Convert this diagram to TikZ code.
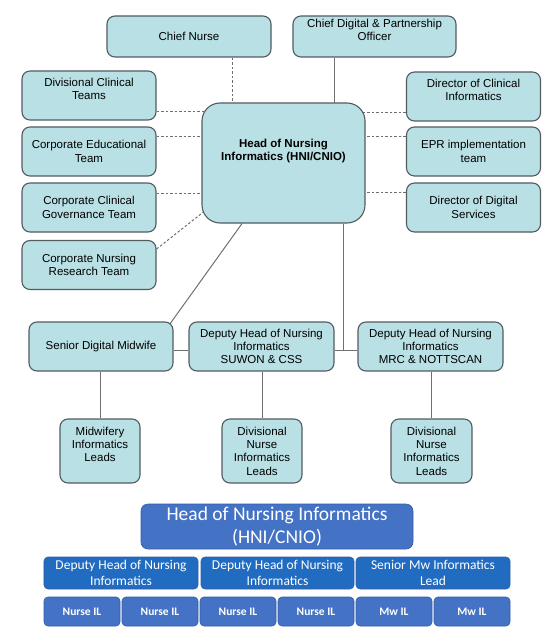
\documentclass[tikz,border=0pt]{standalone}
\usepackage{fontspec}
\setmainfont{Liberation Sans}
\newfontfamily\calibri{Carlito}
\usepackage{tikz}
\usetikzlibrary{shapes,arrows}
\usetikzlibrary{backgrounds}
\definecolor{boxfill}{RGB}{185,224,228}
\definecolor{boxline}{RGB}{82,92,96}
\definecolor{linkgrey}{RGB}{112,112,112}
\definecolor{hniblue}{RGB}{68,114,196}
\definecolor{depblue}{RGB}{33,108,192}
\definecolor{blueline}{RGB}{52,92,168}
\tikzset{auto, minimum size=0pt, font=\fontsize{11.5bp}{13.3bp}\selectfont}
\tikzstyle{block} = [draw=boxline, line width=1.1bp, fill=boxfill, rectangle, rounded corners=8bp, inner sep=2bp, text centered, align=center]
\tikzstyle{hnibox} = [block, rounded corners=18bp, font=\fontsize{11.5bp}{13.3bp}\selectfont\bfseries]
\tikzstyle{link} = [draw=linkgrey, line width=1bp]
\tikzstyle{dotlink} = [link, dash pattern=on 2.5bp off 2bp]
\tikzstyle{bluebox} = [draw=blueline, line width=0.6bp, rectangle, rounded corners=4bp, text=white, align=center, inner sep=1bp]

\begin{document}
\begin{tikzpicture}[x=1bp,y=-1bp]
		\useasboundingbox (0,0) rectangle (555,635);
		% top part
		\node [block, minimum width=164bp, minimum height=41bp] (cn) at (189,36.5) {Chief Nurse};
		\node [block, minimum width=163bp, minimum height=41bp] (cdpo) at (374.5,36.5) {Chief Digital \& Partnership\\Officer\\~};
		\node [hnibox, minimum width=163bp, minimum height=120bp] (hni) at (283.5,163) {Head of Nursing\\Informatics (HNI/CNIO)\\~\\~};
		\node [block, minimum width=134bp, minimum height=49bp] (dct) at (89,95.5) {Divisional Clinical\\Teams\\~};
		\node [block, minimum width=134bp, minimum height=49bp] (cet) at (89,151.5) {Corporate Educational\\Team};
		\node [block, minimum width=134bp, minimum height=49bp] (ccgt) at (89,207.5) {Corporate Clinical\\Governance Team};
		\node [block, minimum width=134bp, minimum height=49bp] (cnrt) at (89,265) {Corporate Nursing\\Research Team};
		\node [block, minimum width=134bp, minimum height=49bp] (dci) at (473.5,96.5) {Director of Clinical\\Informatics\\~};
		\node [block, minimum width=134bp, minimum height=49bp] (epr) at (473.5,151.5) {EPR implementation\\team};
		\node [block, minimum width=134bp, minimum height=49bp] (dds) at (473.5,207.5) {Director of Digital\\Services};

		% middle part
		\node [block, minimum width=144bp, minimum height=49bp] (sdm) at (101,346.5) {Senior Digital Midwife};
		\node [block, minimum width=145bp, minimum height=49bp] (dep1) at (261.5,346.5) {Deputy Head of Nursing\\Informatics\\SUWON \& CSS};
		\node [block, minimum width=145bp, minimum height=49bp] (dep2) at (430.5,346.5) {Deputy Head of Nursing\\Informatics\\MRC \& NOTTSCAN};
		\node [block, minimum width=80bp, minimum height=64bp] (mil) at (100,451) {Midwifery\\Informatics\\Leads\\~};
		\node [block, minimum width=80bp, minimum height=64bp] (dnil1) at (262,451) {Divisional\\Nurse\\Informatics\\Leads};
		\node [block, minimum width=81bp, minimum height=64bp] (dnil2) at (431.5,451) {Divisional\\Nurse\\Informatics\\Leads};

		% blue summary
		\node [bluebox, fill=hniblue, rounded corners=7bp, minimum width=272bp, minimum height=45bp, font=\calibri\fontsize{19.5bp}{23bp}\selectfont] (bhni) at (277,526.5) {Head of Nursing Informatics\\(HNI/CNIO)};
		\node [bluebox, fill=depblue, minimum width=154bp, minimum height=32bp, font=\calibri\fontsize{13.5bp}{16bp}\selectfont] (bdep1) at (121,573) {Deputy Head of Nursing\\Informatics};
		\node [bluebox, fill=depblue, minimum width=153bp, minimum height=32bp, font=\calibri\fontsize{13.5bp}{16bp}\selectfont] (bdep2) at (277.5,573) {Deputy Head of Nursing\\Informatics};
		\node [bluebox, fill=depblue, minimum width=154bp, minimum height=32bp, font=\calibri\fontsize{13.5bp}{16bp}\selectfont] (bsmw) at (433,573) {Senior Mw Informatics\\Lead};
		\node [bluebox, fill=hniblue, minimum width=76bp, minimum height=29bp, font=\calibri\fontsize{11.5bp}{13bp}\selectfont\bfseries] (nil1) at (82,611.5) {Nurse IL};
		\node [bluebox, fill=hniblue, minimum width=76bp, minimum height=29bp, font=\calibri\fontsize{11.5bp}{13bp}\selectfont\bfseries] (nil2) at (160,611.5) {Nurse IL};
		\node [bluebox, fill=hniblue, minimum width=76bp, minimum height=29bp, font=\calibri\fontsize{11.5bp}{13bp}\selectfont\bfseries] (nil3) at (238,611.5) {Nurse IL};
		\node [bluebox, fill=hniblue, minimum width=76bp, minimum height=29bp, font=\calibri\fontsize{11.5bp}{13bp}\selectfont\bfseries] (nil4) at (316,611.5) {Nurse IL};
		\node [bluebox, fill=hniblue, minimum width=76bp, minimum height=29bp, font=\calibri\fontsize{11.5bp}{13bp}\selectfont\bfseries] (mwil1) at (394,611.5) {Mw IL};
		\node [bluebox, fill=hniblue, minimum width=76bp, minimum height=29bp, font=\calibri\fontsize{11.5bp}{13bp}\selectfont\bfseries] (mwil2) at (472,611.5) {Mw IL};

		\begin{scope}[on background layer]
		\draw [dotlink] ([xshift=43bp]cn.south) |- (hni.center);
		\draw [link] ([xshift=-40.5bp]cdpo.south) |- (hni.center);
		\draw [dotlink] ([yshift=-16.5bp]dct.east) -| (hni.center);
		\draw [dotlink] ([yshift=14.5bp]cet.east) -| (hni.center);
		\draw [dotlink] ([yshift=14.5bp]ccgt.east) -| (hni.center);
		\draw [dotlink] ([yshift=16bp]cnrt.east) -- ([xshift=6bp,yshift=14.7bp]hni.south west);
		\draw [dotlink] ([yshift=-16.5bp]dci.west) -| (hni.center);
		\draw [dotlink] ([yshift=14.5bp]epr.west) -| (hni.center);
		\draw [dotlink] ([yshift=15.5bp]dds.west) -| (hni.center);
		\draw [link] ([xshift=-41.5bp]hni.south) -- ([xshift=-4bp,yshift=-3bp]sdm.north east);
		\draw [link] ([xshift=59.5bp]hni.south) |- ([yshift=-3.5bp]dep2.west);
		\draw [link] ([yshift=-3.5bp]sdm.east) -- ([yshift=-3.5bp]dep1.west);
		\draw [link] ([yshift=-3.5bp]dep1.east) -- ([yshift=-3.5bp]dep2.west);
		\draw [link] (mil.north |- sdm.south) -- (mil.north);
		\draw [link] (dnil1.north |- dep1.south) -- (dnil1.north);
		\draw [link] (dnil2.north |- dep2.south) -- (dnil2.north);
		\end{scope}
	\end{tikzpicture}
\end{document}
